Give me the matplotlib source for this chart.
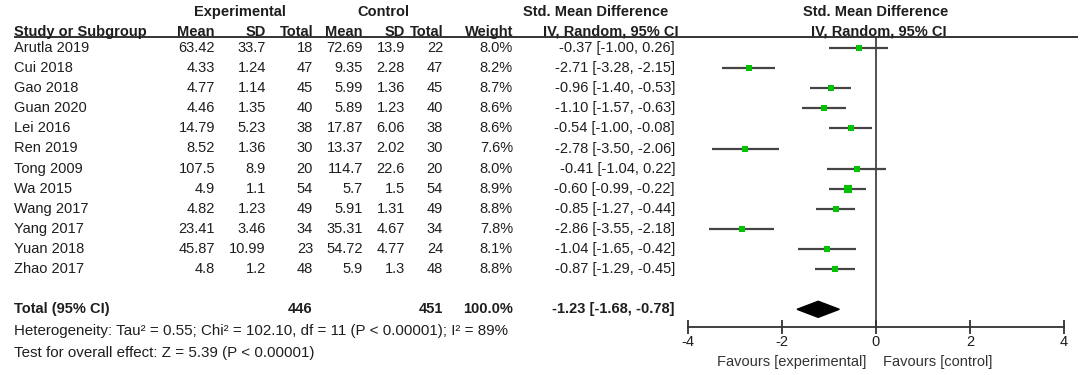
import matplotlib
matplotlib.use("Agg")
import matplotlib.pyplot as plt
import matplotlib.transforms as mtransforms
from matplotlib.patches import Polygon

plt.rcParams['font.family'] = ['Liberation Sans', 'DejaVu Sans']

# ---------------- data ----------------
studies = ["Arutla 2019", "Cui 2018", "Gao 2018", "Guan 2020", "Lei 2016", "Ren 2019",
           "Tong 2009", "Wa 2015", "Wang 2017", "Yang 2017", "Yuan 2018", "Zhao 2017"]
exp_mean = ["63.42", "4.33", "4.77", "4.46", "14.79", "8.52", "107.5", "4.9", "4.82", "23.41", "45.87", "4.8"]
exp_sd = ["33.7", "1.24", "1.14", "1.35", "5.23", "1.36", "8.9", "1.1", "1.23", "3.46", "10.99", "1.2"]
exp_n = [18, 47, 45, 40, 38, 30, 20, 54, 49, 34, 23, 48]
ctl_mean = ["72.69", "9.35", "5.99", "5.89", "17.87", "13.37", "114.7", "5.7", "5.91", "35.31", "54.72", "5.9"]
ctl_sd = ["13.9", "2.28", "1.36", "1.23", "6.06", "2.02", "22.6", "1.5", "1.31", "4.67", "4.77", "1.3"]
ctl_n = [22, 47, 45, 40, 38, 30, 20, 54, 49, 34, 24, 48]
weight = [8.0, 8.2, 8.7, 8.6, 8.6, 7.6, 8.0, 8.9, 8.8, 7.8, 8.1, 8.8]
smd = [-0.37, -2.71, -0.96, -1.10, -0.54, -2.78, -0.41, -0.60, -0.85, -2.86, -1.04, -0.87]
ci_lo = [-1.00, -3.28, -1.40, -1.57, -1.00, -3.50, -1.04, -0.99, -1.27, -3.55, -1.65, -1.29]
ci_hi = [0.26, -2.15, -0.53, -0.63, -0.08, -2.06, 0.22, -0.22, -0.44, -2.18, -0.42, -0.45]

total_label = "Total (95% CI)"
total_exp_n = 446
total_ctl_n = 451
total_weight = "100.0%"
total_smd = -1.23
total_lo = -1.68
total_hi = -0.78
heterogeneity = "Heterogeneity: Tau\u00b2 = 0.55; Chi\u00b2 = 102.10, df = 11 (P < 0.00001); I\u00b2 = 89%"
overall = "Test for overall effect: Z = 5.39 (P < 0.00001)"
xticks = [-4, -2, 0, 2, 4]

# ---------------- layout ----------------
W, H = 1084, 375
fig = plt.figure(figsize=(W / 100, H / 100), dpi=100)
FS = 10.5
TXT = '#1e1e1e'

# table canvas in pixel coordinates (layout only)
tab = fig.add_axes([0, 0, 1, 1])
tab.set_xlim(0, W)
tab.set_ylim(H, 0)
tab.axis('off')

# forest axes: x -4..4 maps to px 688..1064 ; y rows
ROW0, ROWH = 48.0, 20.1
top_px, bot_px = 37.0, 327.0
ax = fig.add_axes([688 / W, 1 - bot_px / H, (1064 - 688) / W, (bot_px - top_px) / H])
ax.set_xlim(-4, 4)
ax.set_ylim((bot_px - ROW0) / ROWH, (top_px - ROW0) / ROWH)
ax.patch.set_alpha(0)
for s in ['top', 'right', 'left']:
    ax.spines[s].set_visible(False)
ax.spines['bottom'].set_color('#333333')
ax.spines['bottom'].set_linewidth(1.3)
ax.set_yticks([])
ax.set_xticks(xticks)
ax.set_xticklabels([str(t) for t in xticks])
ax.tick_params(axis='x', direction='inout', length=10, width=1.3, color='#333333',
               labelsize=FS, labelcolor=TXT, pad=1)
ax.axvline(0, color='#333333', lw=1.2)

# blended transform: x in table pixels, y in forest rows
bt = mtransforms.blended_transform_factory(tab.transData, ax.transData)

def put(x, row, s, ha='right', bold=False, size=FS):
    fig.text(x, row, s, transform=bt, ha=ha, va='center', fontsize=size,
             fontweight='bold' if bold else 'normal', color=TXT)

# headers
put(240, -1.79, "Experimental", ha='center', bold=True)
put(383, -1.79, "Control", ha='center', bold=True)
put(596, -1.79, "Std. Mean Difference", ha='center', bold=True)
put(876, -1.79, "Std. Mean Difference", ha='center', bold=True)
hdr_row = -0.80
put(14, hdr_row, "Study or Subgroup", ha='left', bold=True)
put(214, hdr_row, "Mean", bold=True)
put(266, hdr_row, "SD", bold=True)
put(313, hdr_row, "Total", bold=True)
put(363, hdr_row, "Mean", bold=True)
put(405, hdr_row, "SD", bold=True)
put(443, hdr_row, "Total", bold=True)
put(513, hdr_row, "Weight", bold=True)
put(611, hdr_row, "IV, Random, 95% CI", ha='center', bold=True)
put(879, hdr_row, "IV, Random, 95% CI", ha='center', bold=True)
tab.plot([14, 1078], [top_px, top_px], color='#333333', lw=1.4, solid_capstyle='butt')

# study rows
for i, name in enumerate(studies):
    put(14, i, name, ha='left')
    put(215, i, exp_mean[i])
    put(266, i, exp_sd[i])
    put(313, i, str(exp_n[i]))
    put(363, i, ctl_mean[i])
    put(405, i, ctl_sd[i])
    put(443, i, str(ctl_n[i]))
    put(513, i, f"{weight[i]:.1f}%")
    put(675, i, f"{smd[i]:.2f} [{ci_lo[i]:.2f}, {ci_hi[i]:.2f}]")
    ax.plot([ci_lo[i], ci_hi[i]], [i, i], color='#454545', lw=1.6, solid_capstyle='butt', zorder=2)
    ax.plot([smd[i]], [i], marker='s', color='#00c400', markeredgewidth=0,
            markersize=weight[i] * 0.57, zorder=3)

# total row
trow = len(studies) + 1
put(14, trow, total_label, ha='left', bold=True)
put(312, trow, str(total_exp_n), bold=True)
put(443, trow, str(total_ctl_n), bold=True)
put(513, trow, total_weight, bold=True)
put(675, trow, f"{total_smd:.2f} [{total_lo:.2f}, {total_hi:.2f}]", bold=True)
ax.add_patch(Polygon([[total_lo, trow], [total_smd, trow - 0.4], [total_hi, trow],
                      [total_smd, trow + 0.4]], closed=True, color='black', zorder=3))

put(14, (331 - ROW0) / ROWH, heterogeneity, ha='left', size=10.9)
put(14, (353 - ROW0) / ROWH, overall, ha='left', size=10.9)

# favours labels
fav_y = 1 - 362 / H
fig.text(866 / W, fav_y, "Favours [experimental]", ha='right', va='center', fontsize=FS, color='#333333')
fig.text(883 / W, fav_y, "Favours [control]", ha='left', va='center', fontsize=FS, color='#333333')

fig.savefig("out.png", dpi=100, facecolor='white')
